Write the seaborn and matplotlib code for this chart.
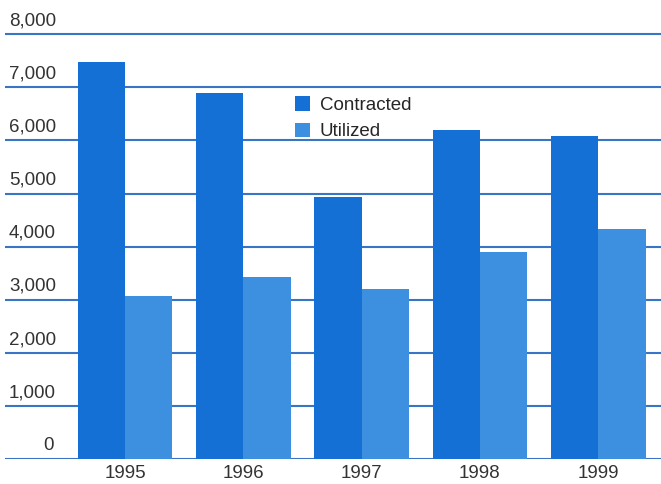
import matplotlib
matplotlib.use("Agg")
import matplotlib.pyplot as plt
import seaborn as sns
import pandas as pd
from matplotlib.patches import Patch

years = ["1995", "1996", "1997", "1998", "1999"]
contracted = [7470, 6900, 4925, 6190, 6075]
utilized = [3075, 3430, 3210, 3890, 4340]
y_ticks = [0, 1000, 2000, 3000, 4000, 5000, 6000, 7000, 8000]
y_tick_labels = ["0", "1,000", "2,000", "3,000", "4,000", "5,000", "6,000", "7,000", "8,000"]
series_names = ["Contracted", "Utilized"]
colors = ["#1470d4", "#3d8fe0"]
grid_color = "#3a74c4"

sns.set_theme(style="white")
plt.rcParams["font.family"] = ["Liberation Sans Narrow", "Liberation Sans", "DejaVu Sans"]

df = pd.DataFrame({
    "year": years * 2,
    "value": contracted + utilized,
    "series": [series_names[0]] * len(years) + [series_names[1]] * len(years),
})

W, H = 661, 484
fig = plt.figure(figsize=(W / 100, H / 100), dpi=100)
y0_px, ymax = 459, 8200
px_per_unit = 53.1 / 1000
top_px = y0_px - ymax * px_per_unit
left_px, right_px = 5, 661
ax = fig.add_axes([left_px / W, (H - y0_px) / H, (right_px - left_px) / W, (y0_px - top_px) / H])

sns.barplot(data=df, x="year", y="value", hue="series", palette=colors,
            width=0.8, saturation=1, linewidth=0, edgecolor="none",
            ax=ax, zorder=3, legend=False)

group_px = 118.3
first_center_px = 125
ax.set_xlim((left_px - first_center_px) / group_px, (right_px - first_center_px) / group_px)
ax.set_ylim(0, ymax)

for t in y_ticks:
    ax.axhline(t, color=grid_color, lw=1.5, zorder=1)
for t, lab in zip(y_ticks, y_tick_labels):
    ax.text(0.006 if t else 0.066, t + 90, lab, transform=ax.get_yaxis_transform(),
            ha="left" if t else "center", va="bottom", fontsize=13.5, color="#333333")

ax.set_yticks([])
ax.set_xticks(range(len(years)))
ax.set_xticklabels(years, fontsize=13.5, color="#333333")
ax.tick_params(axis="x", length=0, pad=4)
ax.set_xlabel("")
ax.set_ylabel("")
for s in ax.spines.values():
    s.set_visible(False)

handles = [Patch(facecolor=c, edgecolor="none") for c in colors]
ax.legend(handles, series_names, loc="upper left",
          bbox_to_anchor=((286 - left_px) / (right_px - left_px), (y0_px - 87) / (y0_px - top_px)),
          frameon=False, fontsize=13.5, handlelength=0.8, handleheight=0.8,
          handletextpad=0.5, labelspacing=0.45, borderpad=0)

fig.savefig("out.png", dpi=100, facecolor="white")
